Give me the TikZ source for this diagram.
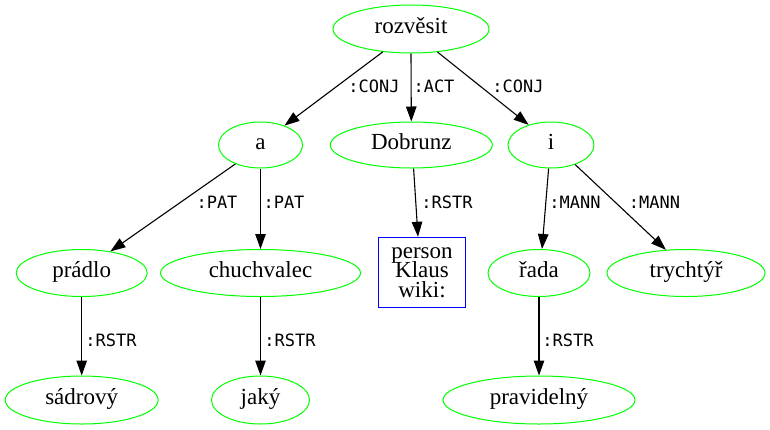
\documentclass[tikz,border=0pt]{standalone}
\usepackage{fontspec}
\setmainfont{Liberation Serif}
\newfontfamily\monofont{DejaVu Sans Mono}
\usetikzlibrary{shapes.geometric,arrows.meta,calc}
\definecolor{gvgreen}{RGB}{0,255,0}
\definecolor{gvblue}{RGB}{0,0,255}
\lineskiplimit=-100pt
\begin{document}
\begin{tikzpicture}[x=1pt,y=-1pt,
  ell/.style={ellipse,draw=gvgreen,line width=1pt,inner sep=0pt,
    text height=14pt,text depth=5.4pt,font=\fontsize{23}{27}\selectfont},
  rec/.style={rectangle,draw=gvblue,line width=1pt,inner sep=0pt,align=center,
    font=\fontsize{23}{19.3}\selectfont},
  lab/.style={inner sep=0pt,anchor=base,font=\monofont\fontsize{17}{20}\selectfont},
  edge/.style={draw=black,line width=1.1pt,-{Triangle[length=15pt,width=10.5pt]}}]
\useasboundingbox (0,0) rectangle (770,429);
\fill[white] (0,0) rectangle (770,429);
% nodes
\node[ell,minimum width=156pt,minimum height=48pt] (r) at (411,29) {rozvěsit};
\node[ell,minimum width=84pt,minimum height=46pt] (a) at (260.5,145) {a};
\node[ell,minimum width=162pt,minimum height=46pt] (dob) at (411.3,145) {Dobrunz};
\node[ell,minimum width=86pt,minimum height=46pt] (ni) at (551,145) {i};
\node[ell,minimum width=131pt,minimum height=47pt] (pr) at (81.7,273) {prádlo};
\node[ell,minimum width=200pt,minimum height=47pt] (ch) at (260.5,273) {chuchvalec};
\node[rec,minimum width=87.4pt,minimum height=70.4pt] (box) at (422,272.5) {person\\Klaus\\wiki:};
\node[ell,minimum width=102pt,minimum height=47pt] (rada) at (539,273) {řada};
\node[ell,minimum width=158pt,minimum height=47pt] (tr) at (686,273) {trychtýř};
\node[ell,minimum width=153pt,minimum height=48pt] (sa) at (81.7,400) {sádrový};
\node[ell,minimum width=98pt,minimum height=48pt] (ja) at (260.5,400) {jaký};
\node[ell,minimum width=192pt,minimum height=48pt] (pv) at (539,400) {pravidelný};
% edges
\draw[edge] (r.219) -- (a.39);
\draw[edge] (r.270) -- (dob.90);
\draw[edge] (r.319) -- (ni.138);
\draw[edge] (a.217) -- (pr.37);
\draw[edge] (a.270) -- (ch.90);
\draw[edge] ([xshift=2.3pt]dob.south) -- ([xshift=-4pt]box.north);
\draw[edge] ([xshift=-2.4pt]ni.south) -- ([xshift=3pt]rada.north);
\draw[edge] (ni.321) -- (tr.131);
\draw[edge] (pr.south) -- (sa.north);
\draw[edge] (ch.south) -- (ja.north);
\draw[edge] (rada.south) -- (pv.north);
% edge labels
\node[lab] (l1) at (374,92) {:CONJ};
\node[lab] (l2) at (434,92) {:ACT};
\node[lab] (l3) at (518,92) {:CONJ};
\node[lab] (l4) at (217,208) {:PAT};
\node[lab] (l5) at (284,208) {:PAT};
\node[lab] (l6) at (447,208) {:RSTR};
\node[lab] (l7) at (575,208) {:MANN};
\node[lab] (l8) at (654.5,208) {:MANN};
\node[lab] (l9) at (111,346.3) {:RSTR};
\node[lab] (l10) at (290,346.3) {:RSTR};
\node[lab] (l11) at (568,346.3) {:RSTR};
\end{tikzpicture}
\end{document}
